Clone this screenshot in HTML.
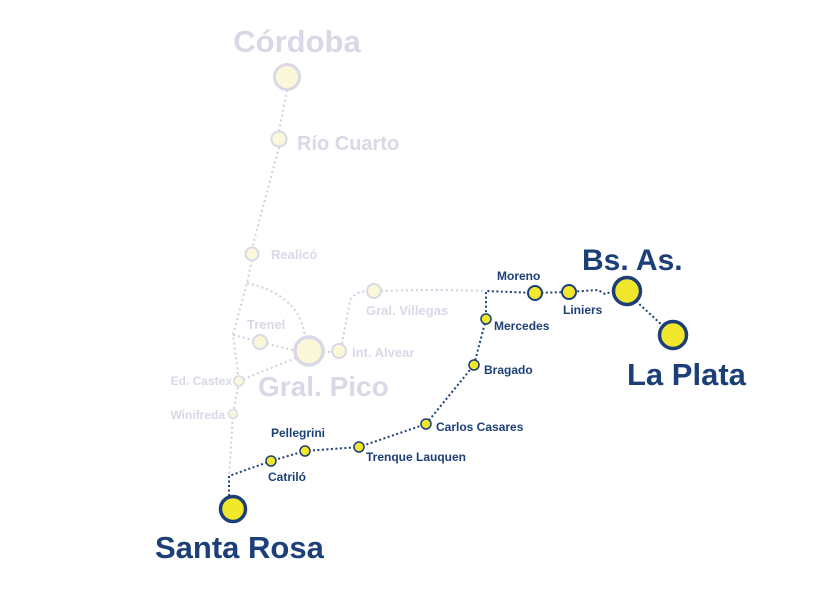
<!DOCTYPE html>
<html><head><meta charset="utf-8"><style>
html,body{margin:0;padding:0;background:#fff;width:832px;height:595px;overflow:hidden}
svg{display:block}
text{font-family:"Liberation Sans",sans-serif;font-weight:bold}
.g{fill:#d9d8e6}
.n{fill:#1c3f78}
</style></head><body>
<svg width="832" height="595" viewBox="0 0 832 595">
<g fill="none" stroke="#cfcfdf" stroke-width="2" stroke-dasharray="2 3">
<path d="M287 90 L279 131"/>
<path d="M279 147 L252 248"/>
<path d="M252 260 L247 283 L233 335 L239 381 L233 414 L229 478"/>
<path d="M247 283 Q300 295 305 337"/>
<path d="M233 335 L260 342 L296 351"/>
<path d="M296 358 L239 381"/>
<path d="M323 352 L332 352"/>
<path d="M342 344 L350 300 Q355 292 367 291"/>
<path d="M381 291 Q430 289 486 291"/>
</g>
<g fill="none" stroke="#1c3f78" stroke-width="2" stroke-dasharray="2 2.5">
<path d="M229 496 L229 476 L271 461 L305 451 L359 447 L426 424 L474 365 L486 319 L486 291 L535 293 L569 292 L598 290 L605 294 L614 291"/>
<path d="M636 301 L663 326"/>
</g>
<g stroke="#d9d8e6" fill="#fbf8d9">
<circle cx="287" cy="77" r="12.5" stroke-width="3"/>
<circle cx="279" cy="139" r="7.5" stroke-width="2"/>
<circle cx="252" cy="254" r="6.5" stroke-width="2"/>
<circle cx="260" cy="342" r="7" stroke-width="2"/>
<circle cx="309" cy="351" r="14" stroke-width="3.5"/>
<circle cx="339" cy="351" r="7" stroke-width="2"/>
<circle cx="374" cy="291" r="7" stroke-width="2"/>
<circle cx="239" cy="381" r="5" stroke-width="1.5"/>
<circle cx="233" cy="414" r="4.5" stroke-width="1.5"/>
</g>
<g stroke="#1c3f78" fill="#f1e72c">
<circle cx="233" cy="509" r="12.5" stroke-width="3.5"/>
<circle cx="271" cy="461" r="5" stroke-width="1.5"/>
<circle cx="305" cy="451" r="5" stroke-width="1.5"/>
<circle cx="359" cy="447" r="5" stroke-width="1.5"/>
<circle cx="426" cy="424" r="5" stroke-width="1.5"/>
<circle cx="474" cy="365" r="5" stroke-width="1.5"/>
<circle cx="486" cy="319" r="5" stroke-width="1.5"/>
<circle cx="535" cy="293" r="7" stroke-width="2"/>
<circle cx="569" cy="292" r="7" stroke-width="2"/>
<circle cx="627" cy="291" r="13.5" stroke-width="3.5"/>
<circle cx="673" cy="335" r="13.5" stroke-width="3.5"/>
</g>
<text class="g" x="297" y="52" font-size="31" text-anchor="middle">Córdoba</text>
<text class="g" x="297" y="150" font-size="20">Río Cuarto</text>
<text class="g" x="271" y="259" font-size="13">Realicó</text>
<text class="g" x="247" y="329" font-size="13">Trenel</text>
<text class="g" x="352" y="357" font-size="13">Int. Alvear</text>
<text class="g" x="366" y="315" font-size="13">Gral. Villegas</text>
<text class="g" x="258" y="396" font-size="28">Gral. Pico</text>
<text class="g" x="232" y="385" font-size="12" text-anchor="end">Ed. Castex</text>
<text class="g" x="225" y="419" font-size="12" text-anchor="end">Winifreda</text>
<text class="n" x="155" y="558" font-size="31">Santa Rosa</text>
<text class="n" x="268" y="481" font-size="12">Catriló</text>
<text class="n" x="271" y="437" font-size="12">Pellegrini</text>
<text class="n" x="366" y="461" font-size="12">Trenque Lauquen</text>
<text class="n" x="436" y="431" font-size="12">Carlos Casares</text>
<text class="n" x="484" y="374" font-size="12">Bragado</text>
<text class="n" x="494" y="330" font-size="12">Mercedes</text>
<text class="n" x="497" y="280" font-size="12">Moreno</text>
<text class="n" x="563" y="314" font-size="12">Liniers</text>
<text class="n" x="582" y="270" font-size="30">Bs. As.</text>
<text class="n" x="627" y="385" font-size="31">La Plata</text>
</svg>
</body></html>
